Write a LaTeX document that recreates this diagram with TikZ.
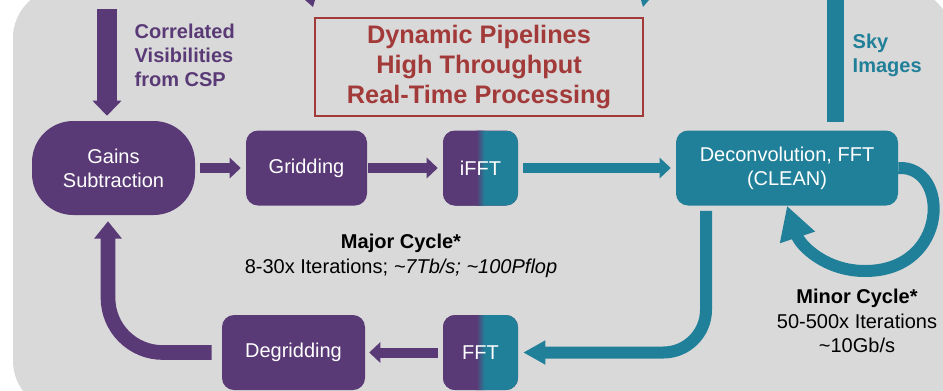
\documentclass[tikz,border=0pt]{standalone}
\usepackage{fontspec}
\setmainfont{Liberation Sans}
\usepackage{xcolor}
\usetikzlibrary{arrows.meta,calc}

\definecolor{pipePurple}{RGB}{90,58,118}
\definecolor{pipeTeal}{RGB}{33,128,153}
\definecolor{pipeRed}{RGB}{163,58,58}
\definecolor{panelGray}{RGB}{217,217,217}

\tikzset{
  stage/.style={fill=pipePurple, text=white, rounded corners=9pt, minimum height=56.25pt, align=center, font=\fontsize{15}{18}\selectfont},
  splitstage/.style={stage, minimum width=56.25pt, path picture={
      \fill[pipePurple, sharp corners] (path picture bounding box.south west) rectangle (path picture bounding box.north);
      \fill[pipeTeal, sharp corners] (path picture bounding box.south) rectangle (path picture bounding box.north east);
      \shade[left color=pipePurple, right color=pipeTeal, sharp corners] ([xshift=-3pt]path picture bounding box.south) rectangle ([xshift=3pt]path picture bounding box.north);}},
  note/.style={align=center, font=\fontsize{15}{18.75}\selectfont},
  flowP/.style={draw=pipePurple, line width=7.5pt, -{Triangle[width=15pt,length=8.25pt]}},
  flowT/.style={draw=pipeTeal, line width=7.5pt, -{Triangle[width=15pt,length=8.25pt]}},
}

\begin{document}
\begin{tikzpicture}[x=0.75pt,y=0.75pt,yscale=-1,xscale=1]

\useasboundingbox (0,0) rectangle (943,390);
\clip (0,0) rectangle (943,390);

% panel
\fill[panelGray, rounded corners=37.5pt] (13,-12) rectangle (952,411);

\fill[pipePurple] (305,0) -- (315,0) -- (313,7) -- cycle;
\fill[pipeTeal] (641,0) -- (649,0) -- (643,7) -- cycle;

% stages
\node[stage, minimum width=122.25pt, minimum height=70.5pt, rounded corners=31pt] (gains) at (113.5,168) {Gains\\Subtraction};
\node[stage, minimum width=90.75pt] (grid) at (306.5,168) {Gridding};
\node[splitstage] (ifft) at (480.5,168) {iFFT};
\node[stage, fill=pipeTeal, minimum width=166.5pt] (decon) at (787,168) {Deconvolution, FFT\\(CLEAN)};
\node[splitstage] (fft) at (480.5,352.5) {FFT};
\node[stage, minimum width=107.25pt] (degrid) at (293.5,352.5) {Degridding};

% labels
\node[anchor=west, align=left, text=pipePurple, font=\bfseries\fontsize{15}{18}\selectfont] (csplabel) at (130,55) {Correlated\\Visibilities\\from CSP};
\node[draw=pipeRed, line width=1.5pt, minimum width=246pt, minimum height=73.5pt, text=pipeRed, align=center, font=\bfseries\fontsize{19}{22.5}\selectfont] (title) at (479,67) {Dynamic Pipelines\\High Throughput\\Real-Time Processing};
\node[anchor=west, align=left, text=pipeTeal, font=\bfseries\fontsize{15}{18}\selectfont] (skylabel) at (848,55) {Sky\\Images};
\node[note] (major) at (401,256) {\textbf{Major Cycle*}\\8-30x Iterations; \textit{\textasciitilde7Tb/s; \textasciitilde100Pflop}};
\node[note, font=\fontsize{15}{18.4}\selectfont] (minor) at (857,321) {\textbf{Minor Cycle*}\\50-500x Iterations\\\textasciitilde10Gb/s};

% major cycle
\coordinate (cspin) at (107,9);
\draw[flowP, line width=15pt, -{Triangle[width=21pt,length=11.25pt]}] (cspin) -- ($(gains.north)+(-6.5,-5)$);
\draw[flowP] ($(gains.east)+(5,0)$) -- ($(grid.west)+(-5,0)$);
\draw[flowP] ($(grid.east)+(1,0)$) -- ($(ifft.west)+(-5,0)$);
\draw[flowT] ($(ifft.east)+(5,0)$) -- ($(decon.west)+(-5,0)$);
\draw[flowT, line width=9pt, rounded corners=32pt, -{Triangle[width=17pt,length=16.5pt]}] ($(decon.south)+(-81,5)$) |- ($(fft.east)+(5,0)$);
\draw[flowP] ($(fft.west)+(-5,0)$) -- ($(degrid.east)+(4,0)$);
\draw[flowP, line width=11pt, rounded corners=41pt, -{Triangle[width=20pt,length=13pt]}] ($(degrid.west)+(-10,0)$) -| ($(gains.south)+(-5.5,6)$);

% sky images out
\coordinate (skyout) at (835,-5);
\draw[pipeTeal, line width=12.75pt] ($(decon.north)+(48,-8)$) -- (skyout);

% minor cycle
\draw[pipeTeal, line width=9pt, -{Triangle[width=26pt,length=25pt]}] (decon.east) .. controls (950,165) and (950,271) .. (865,271) .. controls (825,271) and (800,245) .. (decon.south);

\end{tikzpicture}
\end{document}
